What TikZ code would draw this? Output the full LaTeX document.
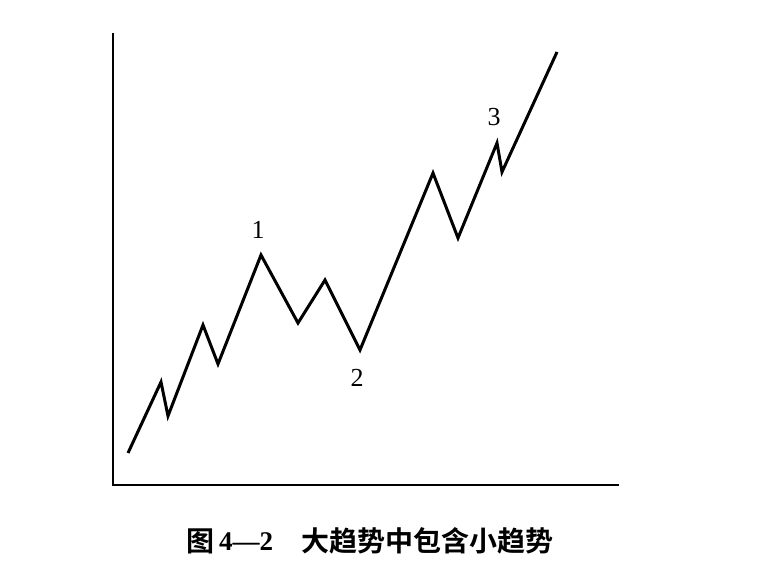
\documentclass[tikz,border=0pt]{standalone}
\usepackage{fontspec}
\setmainfont{Liberation Serif}
\newfontfamily\cjkbold{Noto Sans CJK SC Bold}
\begin{document}
\begin{tikzpicture}[x=1pt,y=-1pt,
  axisline/.style={line width=2pt},
  trendline/.style={line width=3pt,line join=miter,miter limit=10},
  numlabel/.style={font=\fontsize{26}{26}\selectfont,inner sep=0pt},
  captioncjk/.style={font=\cjkbold\fontsize{28}{28}\selectfont,inner sep=0pt,anchor=west},
  captionnum/.style={font=\bfseries\fontsize{27}{27}\selectfont,inner sep=0pt,anchor=west}]
\useasboundingbox[fill=white] (0,0) rectangle (776,560);
% axes
\coordinate (top) at (113,33);
\coordinate (origin) at (113,485);
\coordinate (right) at (619,485);
\draw[axisline] (top) -- (origin) -- (right);
% zigzag points
\coordinate (p0) at (128,453);
\coordinate (p1) at (161,382);
\coordinate (p2) at (168,416);
\coordinate (p3) at (203,325);
\coordinate (p4) at (218,364);
\coordinate (p5) at (261,255);
\coordinate (p6) at (298,323);
\coordinate (p7) at (325,280);
\coordinate (p8) at (360,350);
\coordinate (p9) at (433,173);
\coordinate (p10) at (458,238);
\coordinate (p11) at (497,143);
\coordinate (p12) at (502,172);
\coordinate (p13) at (557,52);
\draw[trendline] (p0) -- (p1) -- (p2) -- (p3) -- (p4) -- (p5) -- (p6) -- (p7) -- (p8) -- (p9) -- (p10) -- (p11) -- (p12) -- (p13);
% labels
\node[numlabel] (l1) at (258,230) {1};
\node[numlabel] (l2) at (357,378) {2};
\node[numlabel] (l3) at (494,117) {3};
% caption
\node[captioncjk] (tu) at (186,541) {图};
\node[captionnum] (num) at (219,542) {4—2};
\node[captioncjk] (cap) at (301,541) {大趋势中包含小趋势};
\end{tikzpicture}
\end{document}
